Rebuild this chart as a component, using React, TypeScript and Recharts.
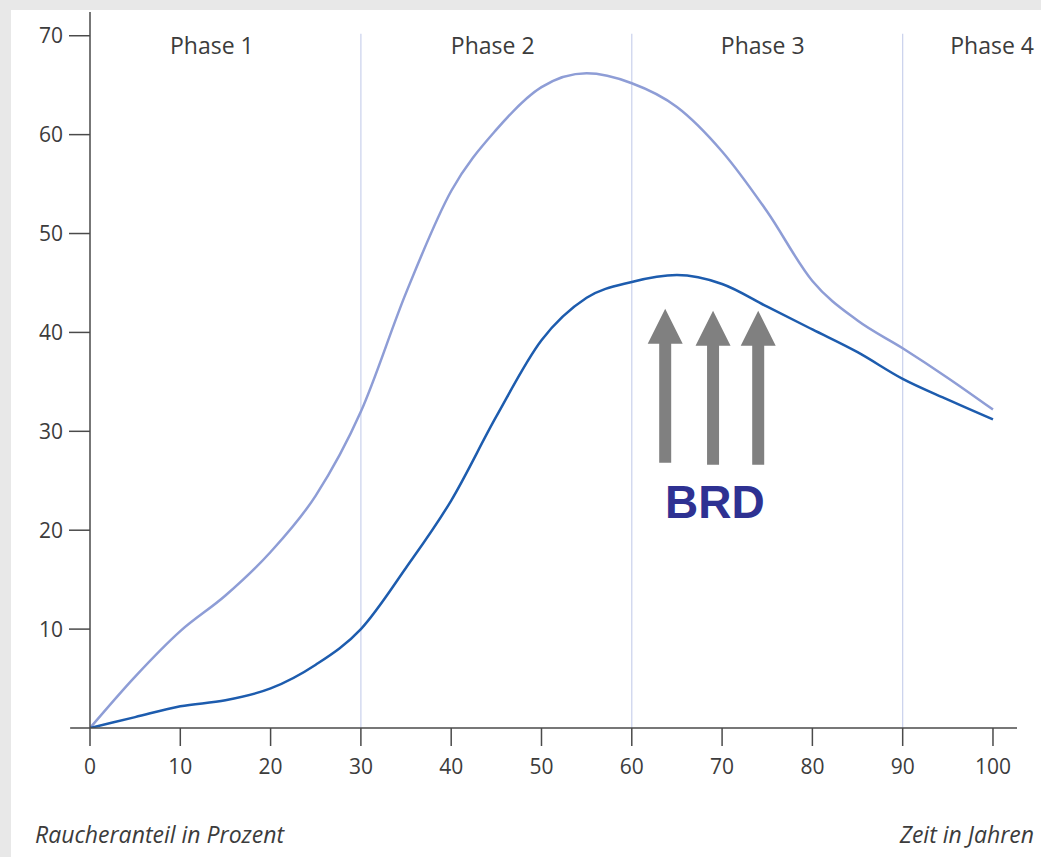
import {
  LineChart, Line, XAxis, YAxis, ReferenceLine, ReferenceDot,
} from 'recharts';

// Zeit in Jahren (x) und Raucheranteil in Prozent (y)
const years = [0, 5, 10, 15, 20, 25, 30, 35, 40, 45, 50, 55, 60, 65, 70, 75, 80, 85, 90, 95, 100];
const maenner = [0, 5.2, 9.8, 13.4, 17.8, 23.5, 32, 44, 54.3, 60.5, 64.8, 66.2, 65.2, 62.8, 58.3, 52.2, 45.2, 41.2, 38.4, 35.4, 32.2];
const frauen = [0, 1.1, 2.2, 2.8, 4, 6.4, 10, 16.2, 23, 31.5, 39.2, 43.5, 45.1, 45.8, 44.9, 42.6, 40.3, 38, 35.3, 33.2, 31.2];

const xTicks = [0, 10, 20, 30, 40, 50, 60, 70, 80, 90, 100];
const yTicks = [10, 20, 30, 40, 50, 60, 70];
const phaseBounds = [30, 60, 90];
const phaseLabels = ['Phase 1', 'Phase 2', 'Phase 3', 'Phase 4'];
const phaseCenters = [13.5, 44.6, 74.5, 99.9];
const arrowX = [63.7, 69.0, 74.0];
const arrowTip = [42.4, 42.2, 42.2];

const data = years.map((x, i) => ({ x, light: maenner[i], dark: frauen[i] }));

const FONT = '"Open Sans", sans-serif';
const TEXT = '#3c3c3c';
const AXIS = '#4a4a4a';

const Arrow = (props: any) => {
  const { cx, cy } = props;
  if (cx == null || cy == null) return null;
  // head 35px wide/tall, shaft 12px wide, overall 154px long
  const pts = [
    [cx, cy], [cx + 17.5, cy + 35], [cx + 6, cy + 35], [cx + 6, cy + 154],
    [cx - 6, cy + 154], [cx - 6, cy + 35], [cx - 17.5, cy + 35],
  ].map(p => p.join(',')).join(' ');
  return <polygon points={pts} fill="#808080" />;
};

export default function App() {
  return (
    <div style={{ position: 'absolute', left: 0, top: 0, width: 1041, height: 857, background: '#e8e8e8' }}>
      <div style={{ position: 'absolute', left: 11, top: 10, right: 0, bottom: 0, background: '#fff' }} />
      <div style={{ position: 'absolute', left: 0, top: 0 }}>
        <LineChart
          width={1041}
          height={857}
          data={data}
          margin={{ top: 12, right: 24, left: 10, bottom: 69 }}
        >
          <XAxis
            type="number"
            dataKey="x"
            domain={[0, 102.66]}
            ticks={xTicks}
            allowDataOverflow
            height={60}
            stroke={AXIS}
            strokeWidth={1.5}
            tickSize={18}
            tickMargin={13}
            tick={{ fill: TEXT, fontSize: 21, fontFamily: FONT }}
          />
          <YAxis
            type="number"
            domain={[0, 72.4]}
            ticks={yTicks}
            allowDataOverflow
            width={80}
            stroke={AXIS}
            strokeWidth={1.5}
            tickSize={21}
            tickMargin={6}
            tick={{ fill: TEXT, fontSize: 21, fontFamily: FONT }}
          />
          {/* x-axis line continues left of the y axis */}
          <ReferenceLine
            segment={[{ x: -2.2, y: 0 }, { x: 0, y: 0 }]}
            stroke={AXIS}
            strokeWidth={1.5}
            ifOverflow="visible"
          />
          {phaseBounds.map(b => (
            <ReferenceLine
              key={b}
              segment={[{ x: b, y: 0 }, { x: b, y: 70.2 }]}
              stroke="#c9d1ec"
              strokeWidth={1.2}
            />
          ))}
          {phaseLabels.map((p, i) => (
            <ReferenceDot
              key={p}
              x={phaseCenters[i]}
              y={69.1}
              ifOverflow="visible"
              shape={(s: any) => (
                <text x={s.cx} y={s.cy} textAnchor="middle" dominantBaseline="central"
                  fill={TEXT} fontSize={23} fontFamily={FONT}>{p}</text>
              )}
            />
          ))}
          <Line
            type="monotone"
            dataKey="light"
            stroke="#8e9dd6"
            strokeWidth={2.5}
            dot={false}
            isAnimationActive={false}
          />
          <Line
            type="monotone"
            dataKey="dark"
            stroke="#1d5cae"
            strokeWidth={2.5}
            dot={false}
            isAnimationActive={false}
          />
          {arrowX.map((ax, i) => (
            <ReferenceDot key={ax} x={ax} y={arrowTip[i]} shape={Arrow} />
          ))}
          <ReferenceDot
            x={69.2}
            y={22.9}
            shape={(s: any) => (
              <text x={s.cx} y={s.cy} textAnchor="middle" dominantBaseline="central"
                fill="#2e3192" fontSize={46} fontWeight="bold"
                fontFamily='"Liberation Sans", Arial, sans-serif'>BRD</text>
            )}
          />
        </LineChart>
      </div>
      <div style={{ position: 'absolute', left: 35, top: 818, fontFamily: FONT, fontStyle: 'italic', fontSize: 23, color: TEXT, whiteSpace: 'nowrap' }}>
        Raucheranteil in Prozent
      </div>
      <div style={{ position: 'absolute', right: 7, top: 818, fontFamily: FONT, fontStyle: 'italic', fontSize: 23, color: TEXT, whiteSpace: 'nowrap' }}>
        Zeit in Jahren
      </div>
    </div>
  );
}
